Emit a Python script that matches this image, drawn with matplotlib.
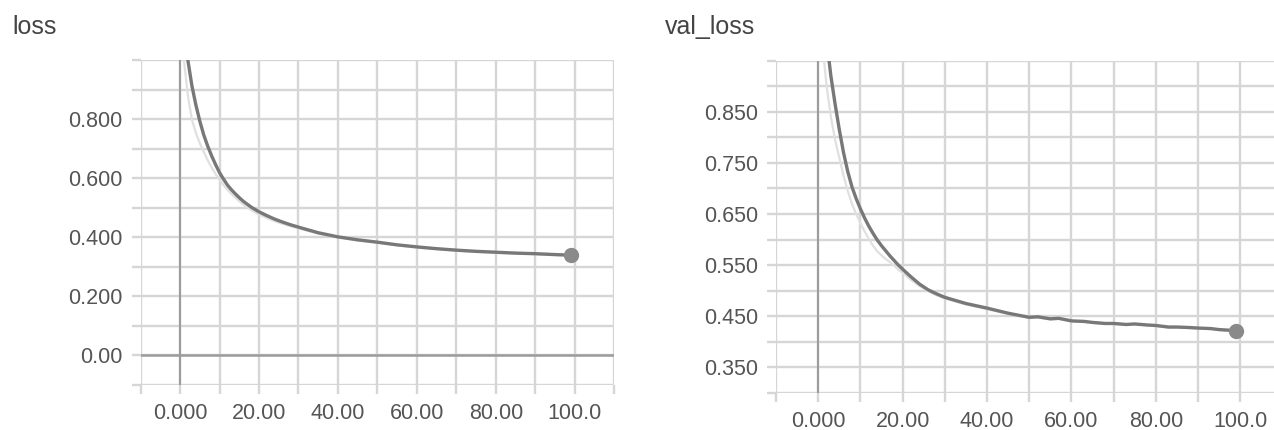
import matplotlib
matplotlib.use("Agg")
import matplotlib.pyplot as plt
from matplotlib.ticker import FixedLocator, FixedFormatter

plt.rcParams['font.family'] = ['Liberation Sans', 'DejaVu Sans']

# ---- data ----
loss_epochs = [0, 1, 2, 3, 4, 5, 6, 7, 8, 9, 10, 11, 12, 13, 14, 15, 16, 17, 18, 19, 20,
               22, 24, 26, 28, 30, 35, 40, 45, 50, 55, 60, 65, 70, 75, 80, 85, 90, 95, 99]
loss_smooth = [1.60, 1.22, 1.00, 0.915, 0.850, 0.795, 0.748, 0.710, 0.677, 0.647, 0.620,
               0.598, 0.578, 0.562, 0.548, 0.535, 0.523, 0.513, 0.503, 0.495, 0.487,
               0.474, 0.462, 0.452, 0.443, 0.435, 0.416, 0.402, 0.392, 0.384, 0.375,
               0.368, 0.362, 0.357, 0.353, 0.350, 0.347, 0.345, 0.342, 0.340]
loss_raw = [1.30, 1.00, 0.88, 0.80, 0.755, 0.720, 0.690, 0.662, 0.637, 0.615, 0.595,
            0.578, 0.562, 0.548, 0.535, 0.523, 0.512, 0.502, 0.493, 0.485, 0.478,
            0.466, 0.455, 0.446, 0.438, 0.431, 0.413, 0.400, 0.390, 0.382, 0.373,
            0.366, 0.360, 0.355, 0.351, 0.348, 0.345, 0.343, 0.340, 0.338]

val_epochs = [0, 1, 2, 3, 4, 5, 6, 7, 8, 9, 10, 11, 12, 13, 14, 15, 16, 17, 18, 19, 20,
              22, 24, 26, 28, 30, 35, 40, 45, 50, 52, 55, 57, 60, 63, 65, 68, 70, 73,
              75, 78, 80, 83, 85, 88, 90, 93, 95, 97, 99]
val_smooth = [1.30, 1.12, 0.99, 0.92, 0.865, 0.815, 0.770, 0.733, 0.703, 0.680, 0.660,
              0.642, 0.626, 0.612, 0.599, 0.588, 0.578, 0.568, 0.559, 0.550, 0.542,
              0.527, 0.513, 0.502, 0.494, 0.487, 0.475, 0.466, 0.456, 0.448, 0.449,
              0.445, 0.446, 0.441, 0.440, 0.438, 0.436, 0.436, 0.434, 0.435, 0.433,
              0.432, 0.429, 0.429, 0.428, 0.427, 0.426, 0.424, 0.423, 0.422]
val_raw = [1.10, 0.98, 0.90, 0.84, 0.795, 0.760, 0.725, 0.695, 0.670, 0.650, 0.632,
           0.616, 0.601, 0.588, 0.577, 0.569, 0.562, 0.556, 0.549, 0.541, 0.535,
           0.521, 0.509, 0.499, 0.491, 0.485, 0.473, 0.464, 0.455, 0.447, 0.448,
           0.444, 0.445, 0.440, 0.439, 0.437, 0.435, 0.435, 0.433, 0.434, 0.432,
           0.431, 0.428, 0.428, 0.427, 0.426, 0.425, 0.423, 0.422, 0.421]

x_major = [0, 20, 40, 60, 80, 100]
x_minor = [-10, 10, 30, 50, 70, 90, 110]
x_labels = ["0.000", "20.00", "40.00", "60.00", "80.00", "100.0"]

loss_y_major = [0.0, 0.2, 0.4, 0.6, 0.8]
loss_y_minor = [-0.1, 0.1, 0.3, 0.5, 0.7, 0.9, 1.0]
loss_y_labels = ["0.00", "0.200", "0.400", "0.600", "0.800"]

val_y_major = [0.35, 0.45, 0.55, 0.65, 0.75, 0.85]
val_y_minor = [0.30, 0.40, 0.50, 0.60, 0.70, 0.80, 0.90, 0.95]
val_y_labels = ["0.350", "0.450", "0.550", "0.650", "0.750", "0.850"]

GRID = "#d6d6d6"
ZERO = "#9c9c9c"
DARK = "#787878"
LIGHT = "#e0e0e0"
TXT = "#555555"


def setup(ax, xlim, ylim, ymaj, ymin, ylab, zero_y):
    ax.set_xlim(*xlim)
    ax.set_ylim(*ylim)
    for s in ax.spines.values():
        s.set_visible(False)
    ax.xaxis.set_major_locator(FixedLocator(x_major))
    ax.xaxis.set_minor_locator(FixedLocator(x_minor))
    ax.xaxis.set_major_formatter(FixedFormatter(x_labels))
    ax.yaxis.set_major_locator(FixedLocator(ymaj))
    ax.yaxis.set_minor_locator(FixedLocator(ymin))
    ax.yaxis.set_major_formatter(FixedFormatter(ylab))
    ax.grid(True, which="both", color=GRID, lw=1.7, zorder=0)
    ax.tick_params(which="both", length=6.5, width=1.7, color=GRID,
                   labelsize=15.5, labelcolor=TXT, pad=6.5)
    ax.set_axisbelow(True)
    ax.axvline(0, color=ZERO, lw=1.5, zorder=1)
    if zero_y:
        ax.axhline(0, color=ZERO, lw=1.8, zorder=1)


fig = plt.figure(figsize=(12.74, 4.30), dpi=100)
ax1 = fig.add_axes([0.1103, 0.1047, 0.3720, 0.7547])
ax2 = fig.add_axes([0.6091, 0.0860, 0.3909, 0.7733])

setup(ax1, (-10, 110), (-0.1, 1.0), loss_y_major, loss_y_minor, loss_y_labels, True)
setup(ax2, (-10, 108), (0.30, 0.95), val_y_major, val_y_minor, val_y_labels, False)

ax1.plot(loss_epochs, loss_raw, color=LIGHT, lw=1.6, zorder=2)
ax1.plot(loss_epochs, loss_smooth, color=DARK, lw=2.4, zorder=3,
         solid_capstyle="round", solid_joinstyle="round")
ax1.plot(loss_epochs[-1], loss_smooth[-1], "o", color="#8a8a8a", ms=10, zorder=4)

ax2.plot(val_epochs, val_raw, color=LIGHT, lw=1.6, zorder=2)
ax2.plot(val_epochs, val_smooth, color=DARK, lw=2.4, zorder=3,
         solid_capstyle="round", solid_joinstyle="round")
ax2.plot(val_epochs[-1], val_smooth[-1], "o", color="#8a8a8a", ms=10, zorder=4)

fig.text(12 / 1274, 1 - 34 / 430, "loss", fontsize=18, color="#444444", va="baseline")
fig.text(665 / 1274, 1 - 34 / 430, "val_loss", fontsize=18, color="#444444", va="baseline")

fig.savefig("out.png", dpi=100, facecolor="white")
